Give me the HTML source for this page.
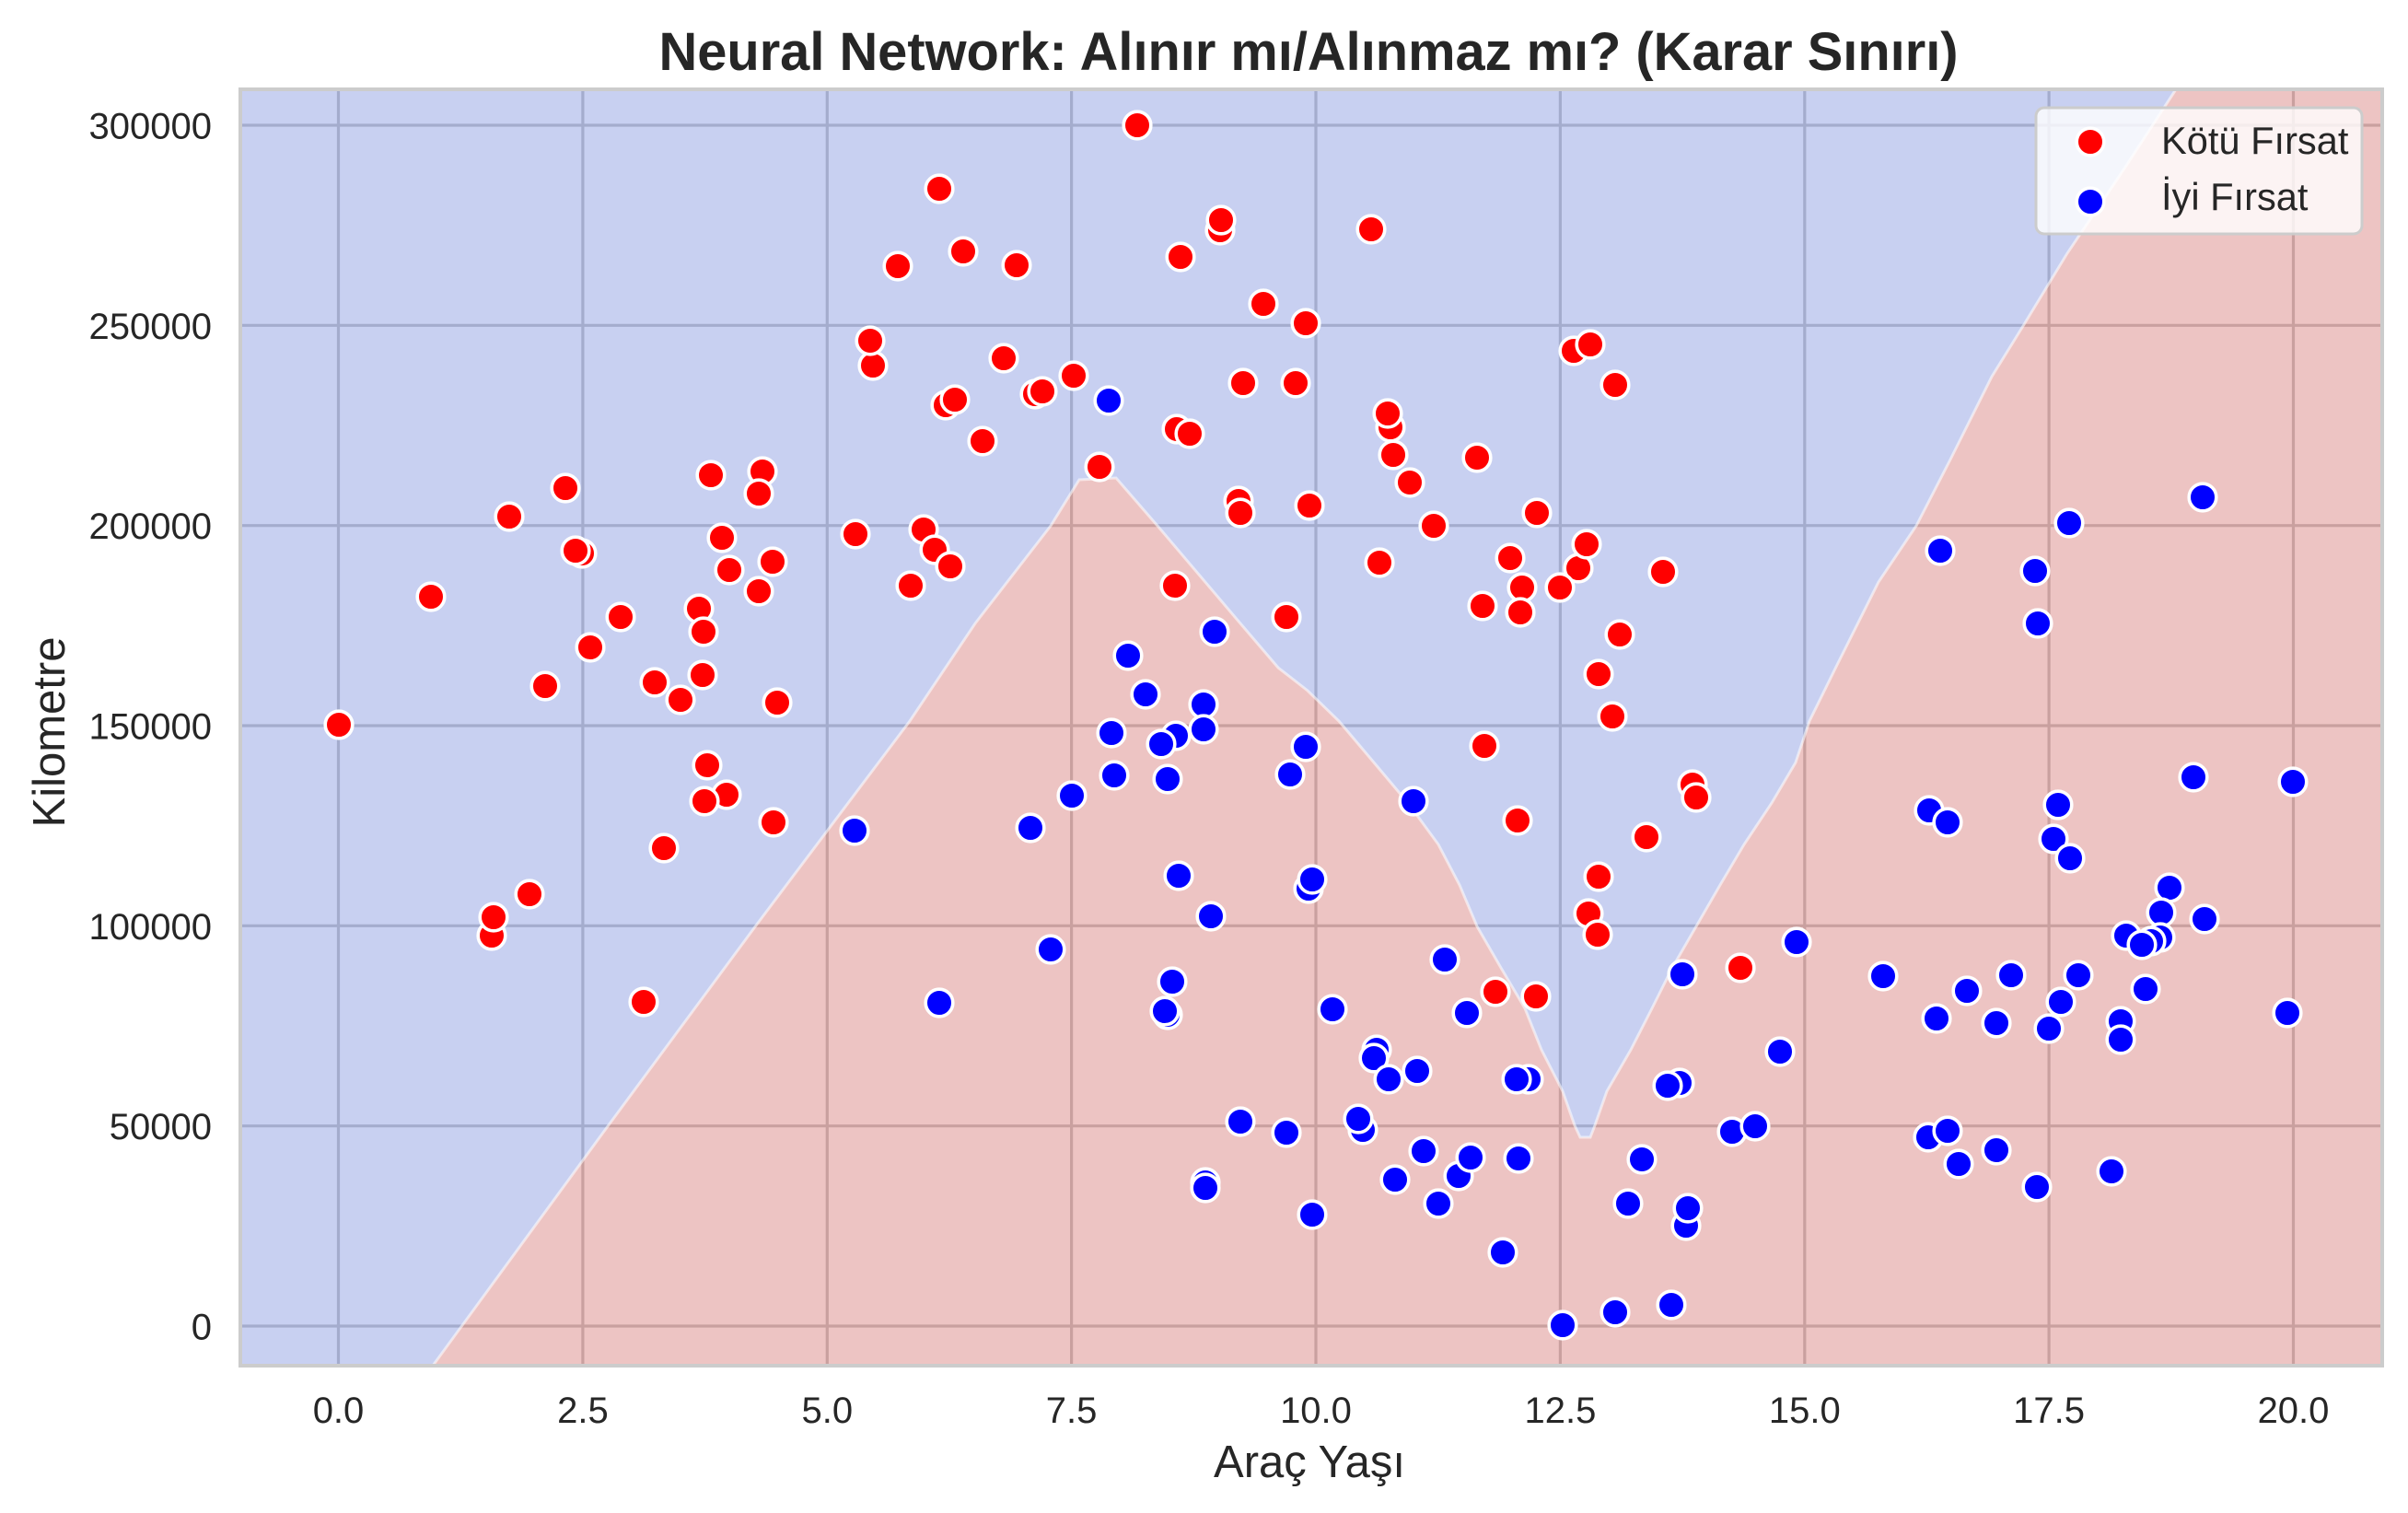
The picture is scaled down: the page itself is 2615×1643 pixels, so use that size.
<!DOCTYPE html>
<html><head><meta charset="utf-8"><style>
html,body{margin:0;padding:0;background:#fff;}
svg{display:block;}
text{font-family:"Liberation Sans",Arial,sans-serif;fill:#262626;}
</style></head><body>
<svg width="2615" height="1643" viewBox="0 0 2615 1643" xmlns="http://www.w3.org/2000/svg">
<rect x="0" y="0" width="2615" height="1643" fill="#fff"/>
<!-- grid lines (under translucent regions) -->
<g stroke="#cccccc" stroke-width="3.2">
<line x1="367.5" y1="97" x2="367.5" y2="1483"/>
<line x1="632.9" y1="97" x2="632.9" y2="1483"/>
<line x1="898.3" y1="97" x2="898.3" y2="1483"/>
<line x1="1163.6" y1="97" x2="1163.6" y2="1483"/>
<line x1="1429" y1="97" x2="1429" y2="1483"/>
<line x1="1694.4" y1="97" x2="1694.4" y2="1483"/>
<line x1="1959.8" y1="97" x2="1959.8" y2="1483"/>
<line x1="2225.1" y1="97" x2="2225.1" y2="1483"/>
<line x1="2490.5" y1="97" x2="2490.5" y2="1483"/>
<line x1="261" y1="1440" x2="2587" y2="1440"/>
<line x1="261" y1="1222.7" x2="2587" y2="1222.7"/>
<line x1="261" y1="1005.3" x2="2587" y2="1005.3"/>
<line x1="261" y1="788" x2="2587" y2="788"/>
<line x1="261" y1="570.7" x2="2587" y2="570.7"/>
<line x1="261" y1="353.3" x2="2587" y2="353.3"/>
<line x1="261" y1="136" x2="2587" y2="136"/>
</g>
<!-- decision regions -->
<polygon fill="rgb(72,98,208)" fill-opacity="0.3" points="261,97 261,1483 470,1483 660,1223 821,1005 988,783 1059,677 1141,571 1172,521 1212,519 1257,571 1347,677 1388,725 1420,750 1454,783 1492,828 1529,872 1562,917 1585,961 1604,1006 1630,1051 1656,1095 1674,1140 1697,1185 1710,1222 1716,1235 1727,1235 1732,1222 1745,1185 1771,1140 1794,1095 1816,1051 1842,1006 1868,961 1894,917 1924,872 1950,828 1965,783 1995,722 2040,632 2081,571 2118,499 2163,409 2197,354 2245,275 2305,186 2363,97"/>
<polygon fill="rgb(195,58,55)" fill-opacity="0.3" points="470,1483 660,1223 821,1005 988,783 1059,677 1141,571 1172,521 1212,519 1257,571 1347,677 1388,725 1420,750 1454,783 1492,828 1529,872 1562,917 1585,961 1604,1006 1630,1051 1656,1095 1674,1140 1697,1185 1710,1222 1716,1235 1727,1235 1732,1222 1745,1185 1771,1140 1794,1095 1816,1051 1842,1006 1868,961 1894,917 1924,872 1950,828 1965,783 1995,722 2040,632 2081,571 2118,499 2163,409 2197,354 2245,275 2305,186 2363,97 2587,97 2587,1483"/>
<polyline fill="none" stroke="#ffffff" stroke-opacity="0.55" stroke-width="3" points="470,1483 660,1223 821,1005 988,783 1059,677 1141,571 1172,521 1212,519 1257,571 1347,677 1388,725 1420,750 1454,783 1492,828 1529,872 1562,917 1585,961 1604,1006 1630,1051 1656,1095 1674,1140 1697,1185 1710,1222 1716,1235 1727,1235 1732,1222 1745,1185 1771,1140 1794,1095 1816,1051 1842,1006 1868,961 1894,917 1924,872 1950,828 1965,783 1995,722 2040,632 2081,571 2118,499 2163,409 2197,354 2245,275 2305,186 2363,97"/>
<!-- spines -->
<rect x="261" y="97" width="2326" height="1386" fill="none" stroke="#cccccc" stroke-width="4"/>
<!-- red points -->
<g fill="#ff0000" stroke="#ffffff" stroke-width="3.6">
<circle cx="1235" cy="136" r="14.8"/><circle cx="1020" cy="205" r="14.8"/><circle cx="1325" cy="250" r="14.8"/><circle cx="1326" cy="239" r="14.8"/>
<circle cx="1046" cy="273" r="14.8"/><circle cx="975" cy="289" r="14.8"/><circle cx="1104" cy="288" r="14.8"/><circle cx="1282" cy="279" r="14.8"/>
<circle cx="1372" cy="330" r="14.8"/><circle cx="1418" cy="351" r="14.8"/><circle cx="948" cy="397" r="14.8"/><circle cx="945" cy="370" r="14.8"/>
<circle cx="1090" cy="389" r="14.8"/><circle cx="1166" cy="408" r="14.8"/><circle cx="1027" cy="440" r="14.8"/><circle cx="1037" cy="434" r="14.8"/>
<circle cx="1124" cy="428" r="14.8"/><circle cx="1132" cy="425" r="14.8"/><circle cx="1350" cy="416" r="14.8"/><circle cx="1407" cy="416" r="14.8"/>
<circle cx="1278" cy="466" r="14.8"/><circle cx="1292" cy="471" r="14.8"/><circle cx="1067" cy="479" r="14.8"/><circle cx="1194" cy="507" r="14.8"/>
<circle cx="1345" cy="544" r="14.8"/><circle cx="1347" cy="557" r="14.8"/><circle cx="1422" cy="549" r="14.8"/><circle cx="828" cy="512" r="14.8"/>
<circle cx="772" cy="516" r="14.8"/><circle cx="824" cy="536" r="14.8"/><circle cx="614" cy="530" r="14.8"/><circle cx="553" cy="561" r="14.8"/>
<circle cx="784" cy="584" r="14.8"/><circle cx="929" cy="580" r="14.8"/><circle cx="1003" cy="575" r="14.8"/><circle cx="1015" cy="597" r="14.8"/>
<circle cx="1032" cy="615" r="14.8"/><circle cx="989" cy="636" r="14.8"/><circle cx="632" cy="601" r="14.8"/><circle cx="625" cy="598" r="14.8"/>
<circle cx="839" cy="610" r="14.8"/><circle cx="792" cy="619" r="14.8"/><circle cx="824" cy="642" r="14.8"/><circle cx="468" cy="648" r="14.8"/>
<circle cx="674" cy="670" r="14.8"/><circle cx="759" cy="661" r="14.8"/><circle cx="764" cy="686" r="14.8"/><circle cx="641" cy="703" r="14.8"/>
<circle cx="1276" cy="636" r="14.8"/><circle cx="1397" cy="670" r="14.8"/><circle cx="592" cy="745" r="14.8"/><circle cx="711" cy="741" r="14.8"/>
<circle cx="739" cy="760" r="14.8"/><circle cx="763" cy="733" r="14.8"/><circle cx="844" cy="763" r="14.8"/><circle cx="368" cy="787" r="14.8"/>
<circle cx="1489" cy="249" r="14.8"/><circle cx="1709" cy="381" r="14.8"/><circle cx="1727" cy="374" r="14.8"/><circle cx="1754" cy="418" r="14.8"/>
<circle cx="1510" cy="464" r="14.8"/><circle cx="1507" cy="449" r="14.8"/><circle cx="1513" cy="494" r="14.8"/><circle cx="1604" cy="497" r="14.8"/>
<circle cx="1531" cy="524" r="14.8"/><circle cx="1557" cy="571" r="14.8"/><circle cx="1669" cy="557" r="14.8"/><circle cx="1498" cy="611" r="14.8"/>
<circle cx="1640" cy="606" r="14.8"/><circle cx="1714" cy="617" r="14.8"/><circle cx="1723" cy="591" r="14.8"/><circle cx="1653" cy="638" r="14.8"/>
<circle cx="1694" cy="638" r="14.8"/><circle cx="1806" cy="621" r="14.8"/><circle cx="1610" cy="658" r="14.8"/><circle cx="1651" cy="665" r="14.8"/>
<circle cx="1759" cy="689" r="14.8"/><circle cx="1736" cy="732" r="14.8"/><circle cx="1751" cy="778" r="14.8"/>
<circle cx="768" cy="831" r="14.8"/><circle cx="789" cy="863" r="14.8"/><circle cx="765" cy="870" r="14.8"/><circle cx="840" cy="893" r="14.8"/>
<circle cx="721" cy="921" r="14.8"/><circle cx="575" cy="971" r="14.8"/><circle cx="534" cy="1016" r="14.8"/><circle cx="536" cy="996" r="14.8"/>
<circle cx="699" cy="1088" r="14.8"/>
<circle cx="1612" cy="810" r="14.8"/><circle cx="1838" cy="852" r="14.8"/><circle cx="1842" cy="866" r="14.8"/><circle cx="1648" cy="891" r="14.8"/>
<circle cx="1788" cy="909" r="14.8"/><circle cx="1736" cy="952" r="14.8"/><circle cx="1725" cy="992" r="14.8"/><circle cx="1735" cy="1015" r="14.8"/>
<circle cx="1890" cy="1051" r="14.8"/><circle cx="1624" cy="1077" r="14.8"/><circle cx="1668" cy="1082" r="14.8"/>
</g>
<!-- blue points -->
<g fill="#0000ff" stroke="#ffffff" stroke-width="3.6">
<circle cx="1204" cy="435" r="14.8"/><circle cx="1319" cy="686" r="14.8"/><circle cx="1225" cy="712" r="14.8"/><circle cx="1244" cy="754" r="14.8"/>
<circle cx="1307" cy="765" r="14.8"/>
<circle cx="2392" cy="540" r="14.8"/><circle cx="2247" cy="568" r="14.8"/><circle cx="2107" cy="598" r="14.8"/><circle cx="2210" cy="620" r="14.8"/>
<circle cx="2213" cy="677" r="14.8"/>
<circle cx="928" cy="902" r="14.8"/><circle cx="1119" cy="899" r="14.8"/><circle cx="1164" cy="864" r="14.8"/><circle cx="1210" cy="842" r="14.8"/>
<circle cx="1268" cy="846" r="14.8"/><circle cx="1401" cy="841" r="14.8"/><circle cx="1207" cy="796" r="14.8"/><circle cx="1277" cy="799" r="14.8"/>
<circle cx="1261" cy="808" r="14.8"/><circle cx="1307" cy="792" r="14.8"/><circle cx="1418" cy="811" r="14.8"/><circle cx="1280" cy="951" r="14.8"/>
<circle cx="1421" cy="965" r="14.8"/><circle cx="1425" cy="955" r="14.8"/><circle cx="1315" cy="995" r="14.8"/><circle cx="1141" cy="1031" r="14.8"/>
<circle cx="1273" cy="1066" r="14.8"/><circle cx="1268" cy="1102" r="14.8"/><circle cx="1265" cy="1098" r="14.8"/><circle cx="1020" cy="1089" r="14.8"/>
<circle cx="1347" cy="1218" r="14.8"/><circle cx="1397" cy="1230" r="14.8"/><circle cx="1309" cy="1284" r="14.8"/><circle cx="1309" cy="1290" r="14.8"/>
<circle cx="1425" cy="1319" r="14.8"/>
<circle cx="1535" cy="870" r="14.8"/><circle cx="1569" cy="1042" r="14.8"/><circle cx="1447" cy="1096" r="14.8"/><circle cx="1593" cy="1100" r="14.8"/>
<circle cx="1827" cy="1058" r="14.8"/><circle cx="1951" cy="1023" r="14.8"/><circle cx="1933" cy="1142" r="14.8"/><circle cx="1495" cy="1140" r="14.8"/>
<circle cx="1492" cy="1149" r="14.8"/><circle cx="1539" cy="1163" r="14.8"/><circle cx="1508" cy="1172" r="14.8"/><circle cx="1660" cy="1172" r="14.8"/>
<circle cx="1647" cy="1172" r="14.8"/><circle cx="1824" cy="1176" r="14.8"/><circle cx="1811" cy="1179" r="14.8"/><circle cx="1480" cy="1227" r="14.8"/>
<circle cx="1475" cy="1215" r="14.8"/><circle cx="1546" cy="1250" r="14.8"/><circle cx="1584" cy="1277" r="14.8"/><circle cx="1597" cy="1257" r="14.8"/>
<circle cx="1515" cy="1281" r="14.8"/><circle cx="1649" cy="1258" r="14.8"/><circle cx="1562" cy="1307" r="14.8"/><circle cx="1783" cy="1259" r="14.8"/>
<circle cx="1881" cy="1229" r="14.8"/><circle cx="1906" cy="1223" r="14.8"/><circle cx="1768" cy="1307" r="14.8"/><circle cx="1831" cy="1331" r="14.8"/>
<circle cx="1833" cy="1312" r="14.8"/><circle cx="1632" cy="1360" r="14.8"/><circle cx="1697" cy="1439" r="14.8"/><circle cx="1754" cy="1425" r="14.8"/>
<circle cx="1815" cy="1417" r="14.8"/>
<circle cx="2382" cy="844" r="14.8"/><circle cx="2490" cy="849" r="14.8"/><circle cx="2095" cy="880" r="14.8"/><circle cx="2115" cy="893" r="14.8"/>
<circle cx="2235" cy="874" r="14.8"/><circle cx="2230" cy="911" r="14.8"/><circle cx="2248" cy="932" r="14.8"/><circle cx="2356" cy="964" r="14.8"/>
<circle cx="2347" cy="991" r="14.8"/><circle cx="2394" cy="998" r="14.8"/><circle cx="2346" cy="1018" r="14.8"/><circle cx="2336" cy="1022" r="14.8"/>
<circle cx="2309" cy="1016" r="14.8"/><circle cx="2326" cy="1026" r="14.8"/><circle cx="2045" cy="1060" r="14.8"/><circle cx="2136" cy="1076" r="14.8"/>
<circle cx="2184" cy="1059" r="14.8"/><circle cx="2257" cy="1059" r="14.8"/><circle cx="2238" cy="1088" r="14.8"/><circle cx="2330" cy="1074" r="14.8"/>
<circle cx="2103" cy="1106" r="14.8"/><circle cx="2168" cy="1111" r="14.8"/><circle cx="2225" cy="1117" r="14.8"/><circle cx="2303" cy="1109" r="14.8"/>
<circle cx="2303" cy="1129" r="14.8"/><circle cx="2484" cy="1100" r="14.8"/><circle cx="2094" cy="1235" r="14.8"/><circle cx="2115" cy="1228" r="14.8"/>
<circle cx="2127" cy="1264" r="14.8"/><circle cx="2168" cy="1249" r="14.8"/><circle cx="2212" cy="1289" r="14.8"/><circle cx="2293" cy="1272" r="14.8"/>
</g>
<!-- legend -->
<rect x="2211" y="117" width="354" height="137" rx="9" ry="9" fill="#ffffff" fill-opacity="0.8" stroke="#cccccc" stroke-width="3"/>
<circle cx="2270" cy="154" r="14.8" fill="#ff0000" stroke="#ffffff" stroke-width="3.6"/>
<circle cx="2270" cy="219" r="14.8" fill="#0000ff" stroke="#ffffff" stroke-width="3.6"/>
<text x="2347" y="167" font-size="41.6">Kötü Fırsat</text>
<text x="2347" y="228" font-size="41.6">İyi Fırsat</text>
<!-- x tick labels -->
<g font-size="40" text-anchor="middle">
<text x="367.5" y="1545">0.0</text>
<text x="632.9" y="1545">2.5</text>
<text x="898.3" y="1545">5.0</text>
<text x="1163.6" y="1545">7.5</text>
<text x="1429" y="1545">10.0</text>
<text x="1694.4" y="1545">12.5</text>
<text x="1959.8" y="1545">15.0</text>
<text x="2225.1" y="1545">17.5</text>
<text x="2490.5" y="1545">20.0</text>
</g>
<!-- y tick labels -->
<g font-size="40" text-anchor="end">
<text x="230" y="1454.5">0</text>
<text x="230" y="1237.2">50000</text>
<text x="230" y="1019.8">100000</text>
<text x="230" y="802.5">150000</text>
<text x="230" y="585.2">200000</text>
<text x="230" y="367.8">250000</text>
<text x="230" y="150.5">300000</text>
</g>
<!-- axis labels -->
<text x="1422" y="1604" font-size="49" text-anchor="middle">Araç Yaşı</text>
<text transform="translate(70,795) rotate(-90)" x="0" y="0" font-size="49" text-anchor="middle">Kilometre</text>
<!-- title -->
<text x="1421" y="76" font-size="58" font-weight="bold" text-anchor="middle" textLength="1411" lengthAdjust="spacingAndGlyphs">Neural Network: Alınır mı/Alınmaz mı? (Karar Sınırı)</text>
</svg>
</body></html>
